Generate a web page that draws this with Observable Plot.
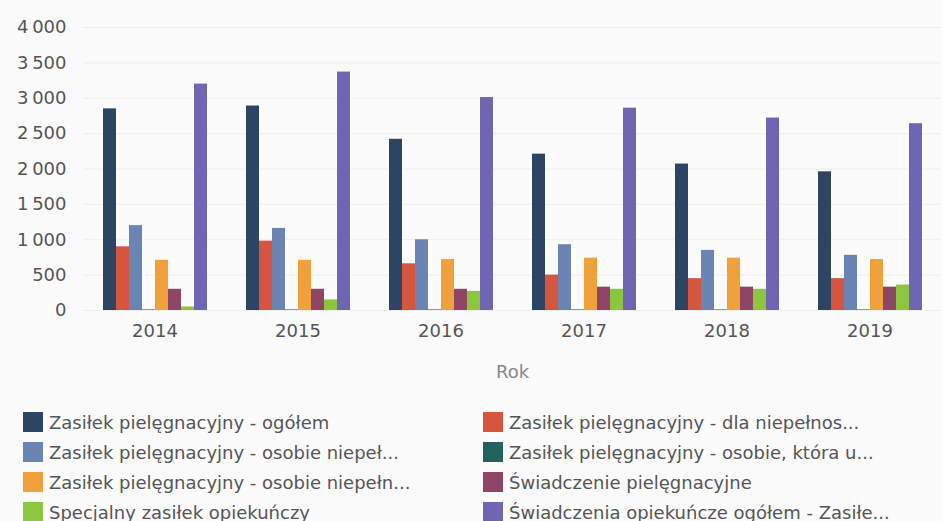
<!DOCTYPE html>
<html>
<head>
<meta charset="utf-8">
<script src="https://cdn.jsdelivr.net/npm/d3@7"></script>
<script src="https://cdn.jsdelivr.net/npm/@observablehq/plot@0.6"></script>
<style>
  html, body { margin: 0; padding: 0; background: #fbfbfb; }
  body { width: 942px; height: 521px; overflow: hidden; font-family: "DejaVu Sans", sans-serif; }
  #legend { display: grid; grid-template-columns: 460px 460px; padding-left: 23px; margin-top: 7px; }
  .item { display: flex; align-items: center; height: 30px; font-size: 18px; color: #555; white-space: nowrap; }
  .sw { width: 20px; height: 20px; margin-right: 6px; flex: none; }
</style>
</head>
<body>
<div id="chart"></div>
<div id="legend"></div>
<script>
const years = ["2014", "2015", "2016", "2017", "2018", "2019"];
const seriesNames = [
  "Zasiłek pielęgnacyjny - ogółem",
  "Zasiłek pielęgnacyjny - dla niepełnos...",
  "Zasiłek pielęgnacyjny - osobie niepeł...",
  "Zasiłek pielęgnacyjny - osobie, która u...",
  "Zasiłek pielęgnacyjny -  osobie niepełn...",
  "Świadczenie pielęgnacyjne",
  "Specjalny zasiłek opiekuńczy",
  "Świadczenia opiekuńcze ogółem - Zasiłe..."
];
const seriesColors = ["#2e4463", "#d5553e", "#6c84b4", "#23635e", "#efa13c", "#8f4565", "#8cc63e", "#6f66b3"];

const zasilekOgolem       = [2850, 2890, 2420, 2210, 2070, 1960];
const zasilekDlaNiepelnos = [900, 980, 660, 500, 450, 450];
const zasilekOsobieNiepel = [1200, 1160, 1000, 930, 850, 780];
const zasilekOsobieKtora  = [8, 8, 8, 8, 8, 8];
const zasilekOsobieNiepeln= [710, 710, 720, 740, 740, 720];
const swiadczeniePielegn  = [300, 300, 300, 330, 330, 330];
const specjalnyZasilek    = [50, 150, 270, 300, 300, 360];
const swiadczeniaOgolem   = [3200, 3370, 3010, 2860, 2720, 2640];

const yTicks = [0, 500, 1000, 1500, 2000, 2500, 3000, 3500, 4000];

const seriesValues = [zasilekOgolem, zasilekDlaNiepelnos, zasilekOsobieNiepel, zasilekOsobieKtora,
  zasilekOsobieNiepeln, swiadczeniePielegn, specjalnyZasilek, swiadczeniaOgolem];

const data = [];
years.forEach((yr, i) => {
  seriesNames.forEach((s, j) => data.push({year: yr, series: s, value: seriesValues[j][i]}));
});

const fmt = d => d3.format(",")(d).replace(/,/g, "\u2009");

const chart = Plot.plot({
  width: 942,
  height: 400,
  marginTop: 27,
  marginBottom: 90,
  marginLeft: 82,
  marginRight: 0,
  style: {background: "transparent", fontFamily: "DejaVu Sans, sans-serif", fontSize: "18px", color: "#555"},
  fx: {domain: years, padding: 0, label: "Rok", tickSize: 0, tickPadding: 14, labelAnchor: "center", labelOffset: 67},
  x: {domain: seriesNames, axis: null, paddingInner: 0, paddingOuter: 1.21},
  y: {domain: [0, 4000], ticks: yTicks, tickFormat: fmt, tickSize: 0, tickPadding: 17, label: null},
  color: {domain: seriesNames, range: seriesColors},
  marks: [
    Plot.gridY(yTicks, {stroke: "#eeeeee", strokeOpacity: 1}),
    Plot.barY(data, {fx: "year", x: "series", y: "value", fill: "series"})
  ]
});
chart.querySelectorAll("[aria-label='fx-axis label'] text, [aria-label='fx-axis label']").forEach(el => el.setAttribute("fill", "#888"));
document.getElementById("chart").appendChild(chart);

const legend = document.getElementById("legend");
seriesNames.forEach((s, j) => {
  const item = document.createElement("div");
  item.className = "item";
  const sw = document.createElement("span");
  sw.className = "sw";
  sw.style.background = seriesColors[j];
  item.appendChild(sw);
  item.appendChild(document.createTextNode(s));
  legend.appendChild(item);
});
</script>
</body>
</html>
